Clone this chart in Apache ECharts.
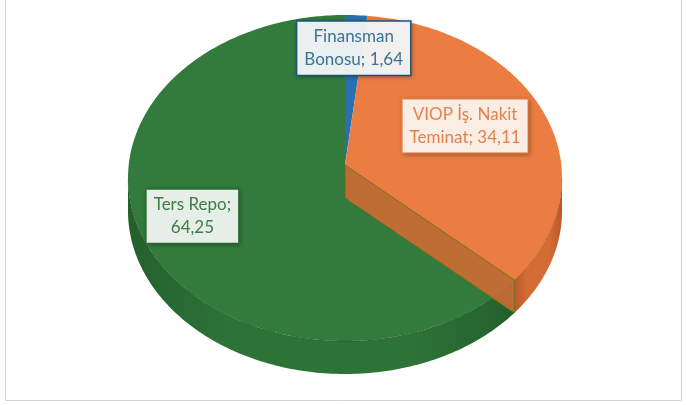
<!DOCTYPE html>
<html>
<head>
<meta charset="utf-8">
<script src="https://cdn.jsdelivr.net/npm/echarts@6/dist/echarts.min.js"></script>
<style>
  html, body { margin: 0; padding: 0; background: #fff; }
  #main { width: 686px; height: 405px; }
</style>
</head>
<body>
<div id="main"></div>
<script>
// data
const categories = ["Finansman\nBonosu", "VIOP İş. Nakit\nTeminat", "Ters Repo"];
const values = [1.64, 34.11, 64.25];
const separators = "; ,; ,;\n".split(",");

// styling
const topColors = ["#2b70ae", "#eb7d43", "#327b3c"];
const sideColors = ["#235d92", "#d26b34", "#2d7237"];
const sideEdgeColors = ["#1c4d7a", "#b85a28", "#23602c"];
const labelText = ["#3d7393", "#e2824e", "#3c7c47"];
const labelFill = ["rgba(244,247,250,0.95)", "rgba(253,244,238,0.95)", "rgba(240,245,241,0.95)"];
const labelBorder = ["#1f5a80", "#ec7e44", "#2f7139"];
const labelFrac = [0.78, 0.6, 0.78];
const labelShift = [[0, 0], [0, -9], [0, -14]];

// pie geometry (ellipse)
const cx = 345, cy = 178, rx = 217, ry = 163, depth = 33;
const apex = [345, 165];

const total = values.reduce((a, b) => a + b, 0);
const starts = [];
let acc = 0;
values.forEach(function (v) { starts.push(acc); acc += v; });

function rim(t, dy) {
  return [cx + rx * Math.sin(t), cy - ry * Math.cos(t) + (dy || 0)];
}
function arc(a, b, dy) {
  const pts = [];
  const n = Math.max(2, Math.ceil(Math.abs(b - a) / (Math.PI / 180)));
  for (let i = 0; i <= n; i++) pts.push(rim(a + (b - a) * i / n, dy));
  return pts;
}
function fmt(v) { return v.toFixed(2).replace(".", ","); }

function renderItem(params, api) {
  const i = params.dataIndex;
  const v = api.value(0);
  const a = starts[i] / total * Math.PI * 2;
  const b = a + v / total * Math.PI * 2;
  const children = [];

  // visible side band (front half)
  const lo = Math.max(a, Math.PI / 2), hi = Math.min(b, Math.PI * 1.5);
  if (hi > lo) {
    children.push({
      type: "polygon",
      z2: 1,
      shape: { points: arc(lo, hi, 0).concat(arc(hi, lo, depth)) },
      style: {
        fill: {
          type: "linear", x: 0, y: 0, x2: 1, y2: 0,
          colorStops: [
            { offset: 0, color: sideEdgeColors[i] },
            { offset: 0.25, color: sideColors[i] },
            { offset: 0.75, color: sideColors[i] },
            { offset: 1, color: sideEdgeColors[i] }
          ]
        }
      }
    });
  }

  // top face
  children.push({
    type: "polygon",
    z2: 5,
    shape: { points: [apex].concat(arc(a, b, 0)) },
    style: { fill: topColors[i] }
  });
  // rim line on the front edge
  if (hi > lo) {
    children.push({
      type: "polyline",
      z2: 6,
      shape: { points: arc(lo, hi, 0) },
      style: { stroke: "rgba(0,0,0,0.15)", lineWidth: 1, fill: null }
    });
  }

  // cut face of the slice that turns towards the viewer
  if (Math.sin(b) > 0.05 && Math.cos(b) < 0) {
    const r0 = rim(b, 0), r1 = rim(b, depth);
    children.push({
      type: "polygon",
      z2: 8,
      shape: { points: [apex, r0, r1, [apex[0], apex[1] + depth]] },
      style: {
        fill: sideColors[i],
        opacity: 0.88,
        stroke: "rgba(110,105,20,0.9)",
        lineWidth: 1
      }
    });
  }

  // data label
  const mid = (a + b) / 2;
  const rp = rim(mid, 0);
  const f = labelFrac[i];
  const lx = apex[0] + (rp[0] - apex[0]) * f + labelShift[i][0];
  const ly = apex[1] + (rp[1] - apex[1]) * f + labelShift[i][1];
  children.push({
    type: "text",
    z2: 10,
    x: lx,
    y: ly,
    style: {
      text: categories[i] + separators[i] + fmt(v),
      fill: labelText[i],
      font: "17px Lato",
      lineHeight: 23,
      align: "center",
      verticalAlign: "middle",
      backgroundColor: labelFill[i],
      borderColor: labelBorder[i],
      borderWidth: 1.5,
      padding: [4, 7, 3, 7],
      shadowColor: "rgba(0,0,0,0.22)",
      shadowBlur: 4,
      shadowOffsetX: 1,
      shadowOffsetY: 1
    }
  });

  return { type: "group", children: children };
}

const myChart = echarts.init(document.getElementById("main"));

const option = {
  animation: false,
  backgroundColor: "#ffffff",
  graphic: [
    {
      type: "rect",
      silent: true,
      shape: { x: 5.5, y: -5, width: 676, height: 405.5 },
      style: { fill: null, stroke: "#d4d4d4", lineWidth: 1 }
    }
  ],
  series: [
    {
      type: "custom",
      coordinateSystem: "none",
      silent: true,
      renderItem: renderItem,
      data: values.map(function (v) { return [v]; })
    }
  ]
};

myChart.setOption(option);
</script>
</body>
</html>
